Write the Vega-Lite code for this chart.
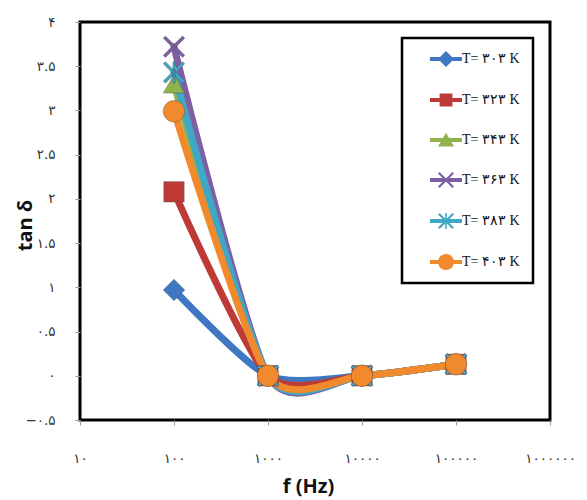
{
  "$schema": "https://vega.github.io/schema/vega-lite/v6.json",
  "width": 470,
  "height": 398,
  "autosize": {"type": "none"},
  "padding": {"left": 80, "top": 22, "right": 37, "bottom": 80},
  "background": "white",
  "config": {
    "view": {"stroke": "black", "strokeWidth": 3},
    "axis": {"domain": false, "grid": false, "labelFont": "DejaVu Sans", "labelFontSize": 13.5, "labelColor": "#333333", "tickColor": "#999999", "tickSize": 5, "titleFont": "Open Sans", "titleFontWeight": "bold", "titleFontSize": 20, "titleColor": "#111111"},
    "legend": {"strokeWidth": 2.5}
  },
  "data": {
    "values": [
      {"series": "T= ۳۰۳ K", "f": 100, "tan": 0.97},
      {"series": "T= ۳۰۳ K", "f": 1000, "tan": 0.0},
      {"series": "T= ۳۰۳ K", "f": 10000, "tan": 0.0},
      {"series": "T= ۳۰۳ K", "f": 100000, "tan": 0.13},
      {"series": "T= ۳۲۳ K", "f": 100, "tan": 2.08},
      {"series": "T= ۳۲۳ K", "f": 1000, "tan": 0.0},
      {"series": "T= ۳۲۳ K", "f": 10000, "tan": 0.0},
      {"series": "T= ۳۲۳ K", "f": 100000, "tan": 0.13},
      {"series": "T= ۳۴۳ K", "f": 100, "tan": 3.3},
      {"series": "T= ۳۴۳ K", "f": 1000, "tan": 0.0},
      {"series": "T= ۳۴۳ K", "f": 10000, "tan": 0.0},
      {"series": "T= ۳۴۳ K", "f": 100000, "tan": 0.13},
      {"series": "T= ۳۶۳ K", "f": 100, "tan": 3.72},
      {"series": "T= ۳۶۳ K", "f": 1000, "tan": 0.0},
      {"series": "T= ۳۶۳ K", "f": 10000, "tan": 0.0},
      {"series": "T= ۳۶۳ K", "f": 100000, "tan": 0.13},
      {"series": "T= ۳۸۳ K", "f": 100, "tan": 3.43},
      {"series": "T= ۳۸۳ K", "f": 1000, "tan": 0.0},
      {"series": "T= ۳۸۳ K", "f": 10000, "tan": 0.0},
      {"series": "T= ۳۸۳ K", "f": 100000, "tan": 0.13},
      {"series": "T= ۴۰۳ K", "f": 100, "tan": 2.99},
      {"series": "T= ۴۰۳ K", "f": 1000, "tan": 0.0},
      {"series": "T= ۴۰۳ K", "f": 10000, "tan": 0.0},
      {"series": "T= ۴۰۳ K", "f": 100000, "tan": 0.13}
    ]
  },
  "encoding": {
    "x": {
      "field": "f", "type": "quantitative",
      "scale": {"type": "log", "domain": [10, 1000000], "nice": false},
      "axis": {
        "values": [10, 100, 1000, 10000, 100000, 1000000],
        "format": "d",
        "labelPadding": 26,
        "labelFlush": false,
        "labelOverlap": false,
        "labelExpr": "replace(replace(replace(replace(replace(replace(replace(replace(replace(replace(datum.label,regexp('0','g'),'۰'),regexp('1','g'),'۱'),regexp('2','g'),'۲'),regexp('3','g'),'۳'),regexp('4','g'),'۴'),regexp('5','g'),'۵'),regexp('6','g'),'۶'),regexp('7','g'),'۷'),regexp('8','g'),'۸'),regexp('9','g'),'۹')",
        "title": "f (Hz)",
        "titleX": 228,
        "titleY": 66,
        "titleBaseline": "middle"
      }
    },
    "y": {
      "field": "tan", "type": "quantitative",
      "scale": {"domain": [-0.5, 4], "nice": false, "zero": false},
      "axis": {
        "values": [-0.5, 0, 0.5, 1, 1.5, 2, 2.5, 3, 3.5, 4],
        "format": ".1~f",
        "labelPadding": 20,
        "labelFlush": false,
        "labelOverlap": false,
        "labelExpr": "replace(replace(replace(replace(replace(replace(replace(replace(replace(replace(datum.label,regexp('0','g'),'۰'),regexp('1','g'),'۱'),regexp('2','g'),'۲'),regexp('3','g'),'۳'),regexp('4','g'),'۴'),regexp('5','g'),'۵'),regexp('6','g'),'۶'),regexp('7','g'),'۷'),regexp('8','g'),'۸'),regexp('9','g'),'۹')",
        "title": "tan δ",
        "titleAngle": -90,
        "titleX": -55,
        "titleY": 203,
        "titleAlign": "center",
        "titleBaseline": "middle"
      }
    }
  },
  "layer": [
    {
      "mark": {"type": "line", "interpolate": "cardinal", "tension": 0.3, "strokeWidth": 7, "strokeCap": "round"},
      "encoding": {
        "color": {"field": "series", "type": "nominal", "legend": null,
          "scale": {"domain": ["T= ۳۰۳ K", "T= ۳۲۳ K", "T= ۳۴۳ K", "T= ۳۶۳ K", "T= ۳۸۳ K", "T= ۴۰۳ K"], "range": ["#3F77C2", "#BE3A36", "#8FB34A", "#7E5FA3", "#3FA8C6", "#F08A2C"]}}
      }
    },
    {
      "mark": {"type": "point", "filled": true, "size": 460, "opacity": 1, "stroke": "#444444", "strokeWidth": 0.6, "strokeOpacity": 0.6},
      "encoding": {
        "color": {"field": "series", "type": "nominal", "legend": null,
          "scale": {"domain": ["T= ۳۰۳ K", "T= ۳۲۳ K", "T= ۳۴۳ K", "T= ۳۶۳ K", "T= ۳۸۳ K", "T= ۴۰۳ K"], "range": ["#3F77C2", "#BE3A36", "#8FB34A", "#7E5FA3", "#3FA8C6", "#F08A2C"]}},
        "shape": {"field": "series", "type": "nominal", "legend": null,
          "scale": {"domain": ["T= ۳۰۳ K", "T= ۳۲۳ K", "T= ۳۴۳ K", "T= ۳۶۳ K", "T= ۳۸۳ K", "T= ۴۰۳ K"], "range": [
            "M0,-1L1,0L0,1L-1,0Z",
            "M-0.95,-0.95H0.95V0.95H-0.95Z",
            "M0,-0.85L1,0.85H-1Z",
            "M-1,-0.8L-0.8,-1L1,0.8L0.8,1Z M0.8,-1L1,-0.8L-0.8,1L-1,0.8Z",
            "M-1,-0.8L-0.8,-1L1,0.8L0.8,1Z M0.8,-1L1,-0.8L-0.8,1L-1,0.8Z M-0.1,-1H0.1V1H-0.1Z",
            "M-1,0A1,1 0 1,1 1,0A1,1 0 1,1 -1,0Z"
          ]}}
      }
    },
    {
      "mark": {"type": "point", "filled": true, "size": 256, "opacity": 0},
      "encoding": {
        "color": {"field": "series", "type": "nominal",
          "scale": {"domain": ["T= ۳۰۳ K", "T= ۳۲۳ K", "T= ۳۴۳ K", "T= ۳۶۳ K", "T= ۳۸۳ K", "T= ۴۰۳ K"], "range": ["#3F77C2", "#BE3A36", "#8FB34A", "#7E5FA3", "#3FA8C6", "#F08A2C"]},
          "legend": {
            "title": null,
            "orient": "none",
            "legendX": 322,
            "legendY": 16,
            "padding": 13,
            "symbolOffset": 23,
            "labelOffset": 8,
            "rowPadding": 25,
            "symbolSize": 256,
            "symbolOpacity": 1,
            "symbolStrokeWidth": 0,
            "labelFont": "Liberation Serif",
            "labelFontSize": 14,
            "labelColor": "#111111",
            "strokeColor": "black",
            "fillColor": "white"
          }},
        "shape": {"field": "series", "type": "nominal",
          "scale": {"domain": ["T= ۳۰۳ K", "T= ۳۲۳ K", "T= ۳۴۳ K", "T= ۳۶۳ K", "T= ۳۸۳ K", "T= ۴۰۳ K"], "range": [
            "M-2,-0.25H2V0.25H-2Z M0,-1L1,0L0,1L-1,0Z",
            "M-2,-0.25H2V0.25H-2Z M-0.8,-0.8H0.8V0.8H-0.8Z",
            "M-2,-0.25H2V0.25H-2Z M0,-0.9L1,0.8H-1Z",
            "M-2,-0.25H2V0.25H-2Z M-1,-0.8L-0.8,-1L1,0.8L0.8,1Z M0.8,-1L1,-0.8L-0.8,1L-1,0.8Z",
            "M-2,-0.25H2V0.25H-2Z M-1,-0.8L-0.8,-1L1,0.8L0.8,1Z M0.8,-1L1,-0.8L-0.8,1L-1,0.8Z M-0.1,-1H0.1V1H-0.1Z",
            "M-2,-0.25H2V0.25H-2Z M-1,0A1,1 0 1,1 1,0A1,1 0 1,1 -1,0Z"
          ]},
          "legend": {
            "title": null,
            "orient": "none",
            "legendX": 322,
            "legendY": 16,
            "padding": 13,
            "symbolOffset": 23,
            "labelOffset": 8,
            "rowPadding": 25,
            "symbolSize": 256,
            "symbolOpacity": 1,
            "symbolStrokeWidth": 0,
            "labelFont": "Liberation Serif",
            "labelFontSize": 14,
            "labelColor": "#111111",
            "strokeColor": "black",
            "fillColor": "white"
          }}
      }
    }
  ],
  "resolve": {"scale": {"color": "independent", "shape": "independent"}, "legend": {"color": "independent", "shape": "independent"}}
}
